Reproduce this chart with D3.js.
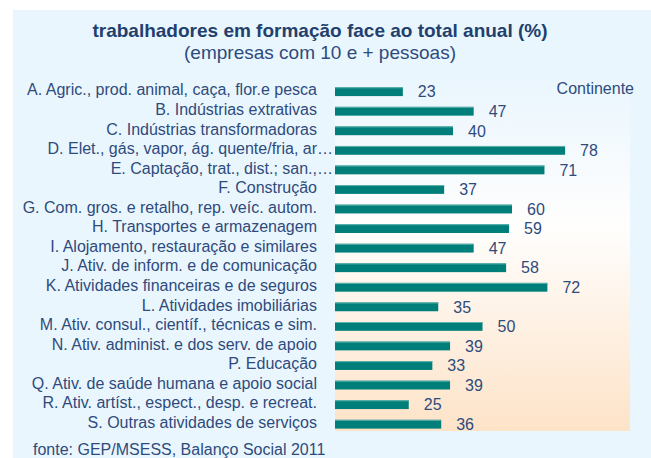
<!DOCTYPE html>
<html><head><meta charset="utf-8">
<script src="https://cdn.jsdelivr.net/npm/d3@7"></script>
<style>
html,body{margin:0;padding:0;background:#fff;}
svg{display:block;font-family:"Liberation Sans",Arial,sans-serif;}
</style></head>
<body>
<svg id="chart" width="651" height="458"></svg>
<script>
const categories = [
  "A. Agric., prod. animal, caça, flor.e pesca",
  "B. Indústrias extrativas",
  "C. Indústrias transformadoras",
  "D. Elet., gás, vapor, ág. quente/fria, ar…",
  "E. Captação, trat., dist.; san.,…",
  "F. Construção",
  "G. Com. gros. e retalho, rep. veíc. autom.",
  "H. Transportes e armazenagem",
  "I. Alojamento, restauração e similares",
  "J. Ativ. de inform. e de comunicação",
  "K. Atividades financeiras e de seguros",
  "L. Atividades imobiliárias",
  "M. Ativ. consul., científ., técnicas e sim.",
  "N. Ativ. administ. e dos serv. de apoio",
  "P. Educação",
  "Q. Ativ. de saúde humana e apoio social",
  "R. Ativ. artíst., espect., desp. e recreat.",
  "S. Outras atividades de serviços"
];
const values = [23, 47, 40, 78, 71, 37, 60, 59, 47, 58, 72, 35, 50, 39, 33, 39, 25, 36];
const xDomain = [0, 100];
const titleText = "trabalhadores em formação face ao total anual (%)";
const subtitleText = "(empresas com 10 e + pessoas)";
const seriesName = "Continente";
const sourceText = "fonte: GEP/MSESS, Balanço Social 2011";

const svg = d3.select("#chart");
const textColor = "#2e4b7c";
const barColor = "#007f7a";

// panel background
svg.append("rect").attr("x", 13).attr("y", 10).attr("width", 651 - 13).attr("height", 458 - 10).attr("fill", "#eaf6fe");

// plot gradient
const defs = svg.append("defs");
const grad = defs.append("linearGradient").attr("id", "pg").attr("x1", 0).attr("y1", 0).attr("x2", 0).attr("y2", 1);
grad.append("stop").attr("offset", "0%").attr("stop-color", "#eaf6fe");
grad.append("stop").attr("offset", "42%").attr("stop-color", "#fffefd");
grad.append("stop").attr("offset", "100%").attr("stop-color", "#fde3c8");

const plot = {left: 335, right: 630, top: 78, bottom: 431};
svg.append("rect").attr("x", plot.left).attr("y", plot.top)
  .attr("width", plot.right - plot.left).attr("height", plot.bottom - plot.top)
  .attr("fill", "url(#pg)");

const x = d3.scaleLinear().domain(xDomain).range([plot.left, plot.right]);
const y = d3.scaleBand().domain(categories).range([81.9, 434.0]).paddingInner(0.55).paddingOuter(0.275);

const data = categories.map((c, i) => ({c, v: values[i]}));

// bars
svg.append("g").selectAll("rect").data(data).join("rect")
  .attr("x", x(0)).attr("y", d => y(d.c))
  .attr("width", d => x(d.v) - x(0)).attr("height", y.bandwidth())
  .attr("fill", barColor);
// subtle light top edge
svg.append("g").selectAll("line").data(data).join("line")
  .attr("x1", x(0)).attr("x2", d => x(d.v))
  .attr("y1", d => y(d.c) + 0.5).attr("y2", d => y(d.c) + 0.5)
  .attr("stroke", "#5fb3ae").attr("stroke-width", 1);

// value labels
svg.append("g").selectAll("text").data(data).join("text")
  .attr("x", d => x(d.v) + 15).attr("y", d => y(d.c) + y.bandwidth() / 2)
  .attr("dy", "0.36em").attr("font-size", 16).attr("fill", textColor)
  .text(d => d.v);

// category labels
const labelX = 317;
const lab = svg.append("g").selectAll("g").data(data).join("g")
  .attr("transform", d => `translate(0,${y(d.c) + y.bandwidth() / 2 - 2})`);
lab.append("text")
  .attr("x", labelX).attr("dy", "0.36em").attr("text-anchor", "end")
  .attr("font-size", 16).attr("fill", textColor)
  .text(d => d.c.endsWith("…") ? d.c.slice(0, -1) : d.c);
lab.filter(d => d.c.endsWith("…")).append("text")
  .attr("x", labelX).attr("dy", "0.36em").attr("text-anchor", "start")
  .attr("font-size", 16).attr("fill", textColor).text("…");

// series name
svg.append("text").attr("x", 634).attr("y", 94).attr("text-anchor", "end")
  .attr("font-size", 16).attr("fill", textColor).text(seriesName);

// title
svg.append("text").attr("x", 320).attr("y", 37).attr("text-anchor", "middle")
  .attr("font-size", 19).attr("font-weight", "bold").attr("fill", "#223f6e").text(titleText);
svg.append("text").attr("x", 320).attr("y", 59).attr("text-anchor", "middle")
  .attr("font-size", 19).attr("fill", textColor).text(subtitleText);

// source
svg.append("text").attr("x", 33).attr("y", 455).attr("font-size", 16).attr("fill", textColor).text(sourceText);
</script>
</body></html>
